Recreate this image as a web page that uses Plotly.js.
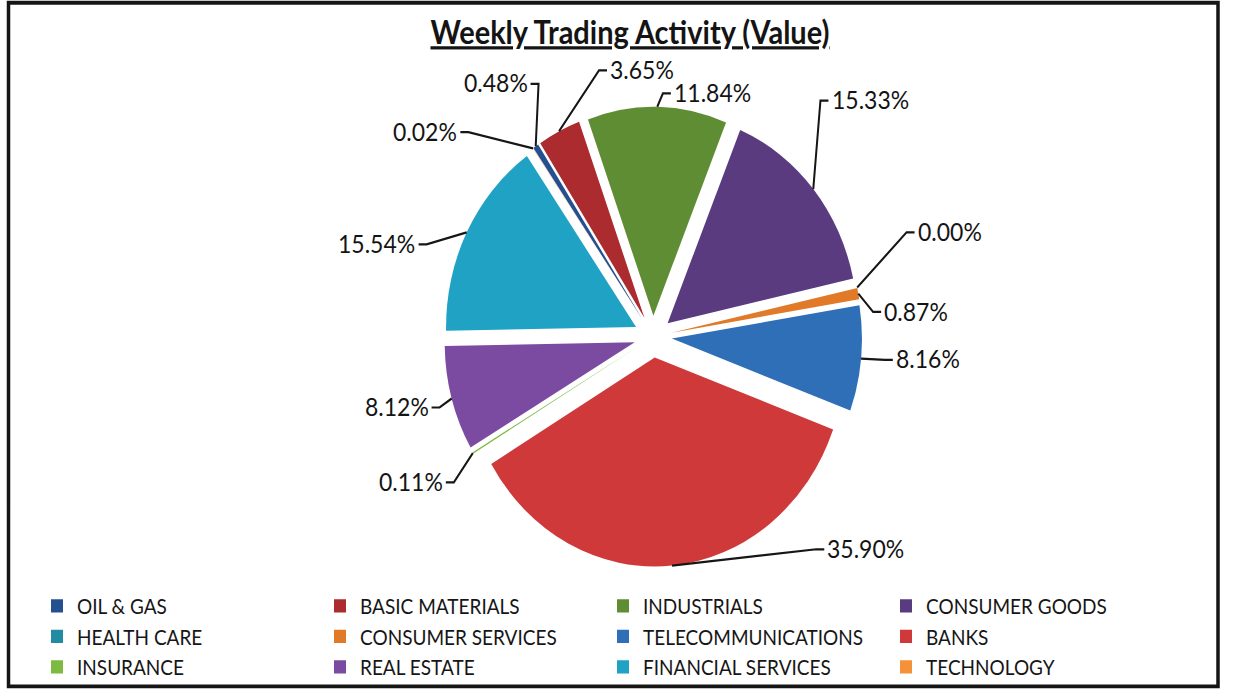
<!DOCTYPE html>
<html>
<head>
<meta charset="utf-8">
<script src="https://cdn.plot.ly/plotly-3.0.1.min.js"></script>
<style>
  html, body { margin: 0; padding: 0; background: #fff; }
  body { width: 1235px; height: 690px; overflow: hidden; }
  /* el gràfic original està estirat en vertical, per això l'escalo una mica */
  #graficPlotly { width: 1235px; height: 627px; transform: scaleY(1.1); transform-origin: 0 0; }
</style>
</head>
<body>
<div id="graficPlotly"></div>
<script>
// DADES DEL GRÀFIC (percentatge del valor negociat per sector)
var sectors = ['OIL & GAS', 'BASIC MATERIALS', 'INDUSTRIALS', 'CONSUMER GOODS',
               'HEALTH CARE', 'CONSUMER SERVICES', 'TELECOMMUNICATIONS', 'BANKS',
               'INSURANCE', 'REAL ESTATE', 'FINANCIAL SERVICES', 'TECHNOLOGY'];
var valors = [0.48, 3.65, 11.84, 15.33, 0.00, 0.87, 8.16, 35.90, 0.11, 8.12, 15.54, 0.02];

var colors = ['#24508f', '#ab2b2e', '#5f8d33', '#5a3b80',
              '#208ba1', '#e07a28', '#2e6fb7', '#cf393a',
              '#7dba42', '#7b4ba1', '#1fa2c4', '#f59138'];

// ON VA CADA ETIQUETA: [angle en graus des de dalt, distància en radis]
var posEtiquetes = [[-34.3, 1.47], [-2.6, 1.28], [15.0, 1.21], [45.2, 1.61],
                    [72.1, 1.64], [84.9, 1.39], [94.2, 1.45], [132.1, 1.51],
                    [241.5, 1.45], [256.1, 1.39], [287.1, 1.52], [309.4, 1.55]];

// MIDES (px dins del div abans d'escalar)
var W = 1235, H = 627;
var CX = 653, CY = 306, R = 190, PULL = 0.1, ROTACIO = -35;
var FONT = 'Lato, "Open Sans", sans-serif';
var midaEtiqueta = 23;

function px(x) { return x / W; }
function py(y) { return 1 - y / H; }

// amplada del text per posar la línia just al costat
var ctx = document.createElement('canvas').getContext('2d');
function ampladaText(t, mida) {
    ctx.font = mida + 'px Lato';
    return ctx.measureText(t).width;
}

function FesGraficPastis() {
    var total = valors.reduce(function (a, b) { return a + b; }, 0);
    var annotations = [];
    var shapes = [];

    // MARC NEGRE DE TOT EL GRÀFIC
    shapes.push({type: 'rect', xref: 'paper', yref: 'paper',
        x0: px(8.5), x1: px(1218), y0: py(624), y1: py(2.5),
        line: {color: '#151515', width: 3.5}});

    var acumulat = 0;
    for (var i = 0; i < valors.length; i++) {
        var mig = (acumulat + valors[i] / 2) / total * 360 + ROTACIO;
        acumulat += valors[i];
        var a = mig * Math.PI / 180;
        // punt de la vora de la porció (ja separada)
        var ax = CX + R * (1 + PULL) * Math.sin(a);
        var ay = CY - R * (1 + PULL) * Math.cos(a);

        var b = posEtiquetes[i][0] * Math.PI / 180;
        var lx = CX + posEtiquetes[i][1] * R * Math.sin(b);
        var ly = CY - posEtiquetes[i][1] * R * Math.cos(b);

        var text = valors[i].toFixed(2) + '%';
        var w = ampladaText(text, midaEtiqueta);
        var ex, cx2;
        if (ax < lx) { ex = lx - w / 2 - 3; cx2 = ex - 8; }
        else { ex = lx + w / 2 + 3; cx2 = ex + 8; }

        shapes.push({type: 'path', xref: 'paper', yref: 'paper',
            path: 'M' + px(ax) + ',' + py(ay) + ' L' + px(cx2) + ',' + py(ly + 1) + ' L' + px(ex) + ',' + py(ly + 1),
            line: {color: '#161616', width: 2}});

        annotations.push({x: px(lx), y: py(ly), xref: 'paper', yref: 'paper',
            xanchor: 'center', yanchor: 'middle', showarrow: false, text: text,
            font: {family: FONT, size: midaEtiqueta, color: '#141414'}});
    }

    var dades = [{
        type: 'pie', labels: sectors, values: valors, sort: false,
        direction: 'clockwise', rotation: ROTACIO, pull: PULL,
        marker: {colors: colors, line: {width: 0}},
        textinfo: 'none', hoverinfo: 'label+value',
        domain: {x: [px(CX - R * (1 + PULL)), px(CX + R * (1 + PULL))],
                 y: [py(CY + R * (1 + PULL)), py(CY - R * (1 + PULL))]}
    }];

    var layout = {
        width: W, height: H,
        margin: {l: 0, r: 0, t: 0, b: 0},
        paper_bgcolor: '#fff',
        title: {text: '<b><u>Weekly Trading Activity (Value)</u></b>',
                x: px(630), y: py(30), xanchor: 'center', yanchor: 'middle',
                font: {family: FONT, size: 29, color: '#141414'}},
        showlegend: true,
        legend: {orientation: 'h', x: px(37), y: py(532), xanchor: 'left', yanchor: 'top',
                 entrywidth: 238, entrywidthmode: 'pixels', traceorder: 'normal',
                 font: {family: FONT, size: 19, color: '#161616'}, bgcolor: 'rgba(0,0,0,0)'},
        annotations: annotations,
        shapes: shapes
    };

    Plotly.newPlot('graficPlotly', dades, layout, {displayModeBar: false, staticPlot: true});
}

FesGraficPastis();
</script>
</body>
</html>
